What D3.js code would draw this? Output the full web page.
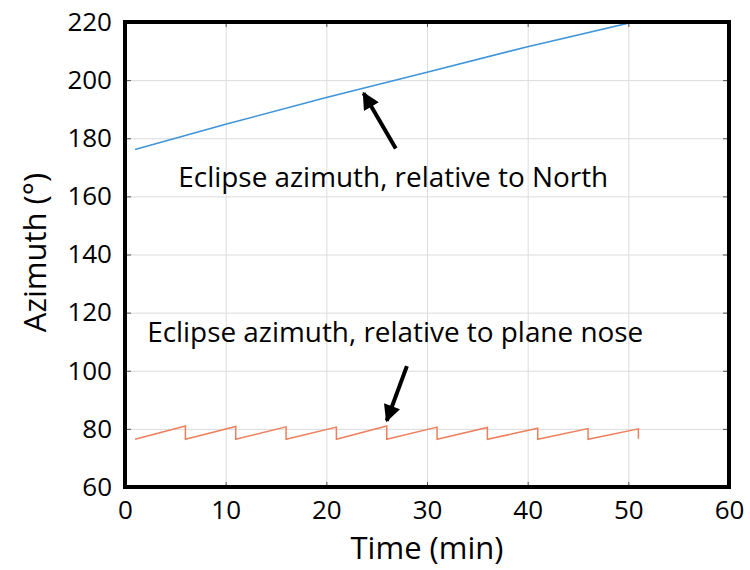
<!DOCTYPE html>
<html>
<head>
<meta charset="utf-8">
<script src="https://cdn.jsdelivr.net/npm/d3@7"></script>
<style>
    body { margin: 0; background: #fff; }
    text { font-family: "Open Sans", sans-serif; fill: #000; }
</style>
</head>
<body>
<div class="chart"></div>
<script>
// azimuth relative to north (blue)
const northTime = [1, 10, 20, 30, 40, 51];
const northAz = [176.1, 184.8, 194.0, 202.7, 211.5, 220.4];

// azimuth relative to plane nose (orange sawtooth)
const noseTime = [1, 6, 6, 11, 11, 16, 16, 21, 21, 26, 26, 31, 31, 36, 36, 41, 41, 46, 46, 51, 51];
const noseAz = [76.4, 81.0, 76.4, 80.8, 76.4, 80.7, 76.4, 80.6, 76.4, 81.0, 76.4,
    80.6, 76.4, 80.5, 76.4, 80.2, 76.4, 80.1, 76.4, 80.0, 76.6];

const xTicks = [0, 10, 20, 30, 40, 50, 60];
const yTicks = [60, 80, 100, 120, 140, 160, 180, 200, 220];

function drawChart() {
    const margin = { top: 22, right: 21, bottom: 83, left: 125 };
    const w = 750;
    const h = 570;
    const chartWidth = w - margin.left - margin.right;
    const chartHeight = h - margin.top - margin.bottom;

    const xScale = d3.scaleLinear().domain([0, 60]).range([0, chartWidth]);
    const yScale = d3.scaleLinear().domain([60, 220]).range([chartHeight, 0]);

    const svg = d3.select('.chart')
        .append('svg')
        .attr('width', w)
        .attr('height', h);

    svg.append('defs')
        .append('clipPath')
        .attr('id', 'clip')
        .append('rect')
        .attr('width', chartWidth)
        .attr('height', chartHeight);

    svg.select('defs')
        .append('marker')
        .attr('id', 'head')
        .attr('viewBox', '0 0 10 10')
        .attr('refX', 9)
        .attr('refY', 5)
        .attr('markerWidth', 4.5)
        .attr('markerHeight', 4.3)
        .attr('markerUnits', 'strokeWidth')
        .attr('orient', 'auto')
        .append('path')
        .attr('d', 'M0,0 L10,5 L0,10 Z')
        .attr('fill', '#000');

    const g = svg.append('g')
        .attr('transform', 'translate(' + margin.left + ',' + margin.top + ')');

    // grid
    g.append('g')
        .call(d3.axisBottom(xScale).tickValues(xTicks).tickSize(chartHeight).tickFormat(''))
        .call(a => a.select('.domain').remove())
        .selectAll('line').attr('stroke', '#dcdcdc');
    g.append('g')
        .call(d3.axisRight(yScale).tickValues(yTicks).tickSize(chartWidth).tickFormat(''))
        .call(a => a.select('.domain').remove())
        .selectAll('line').attr('stroke', '#dcdcdc');

    // inner ticks on all four sides
    const tickCol = '#555';
    g.append('g')
        .attr('transform', 'translate(0,' + chartHeight + ')')
        .call(d3.axisTop(xScale).tickValues(xTicks).tickSize(5).tickFormat(''))
        .call(a => a.select('.domain').remove())
        .selectAll('line').attr('stroke', tickCol);
    g.append('g')
        .call(d3.axisBottom(xScale).tickValues(xTicks).tickSize(5).tickFormat(''))
        .call(a => a.select('.domain').remove())
        .selectAll('line').attr('stroke', tickCol);
    g.append('g')
        .call(d3.axisRight(yScale).tickValues(yTicks).tickSize(6).tickFormat(''))
        .call(a => a.select('.domain').remove())
        .selectAll('line').attr('stroke', tickCol);
    g.append('g')
        .attr('transform', 'translate(' + chartWidth + ',0)')
        .call(d3.axisLeft(yScale).tickValues(yTicks).tickSize(6).tickFormat(''))
        .call(a => a.select('.domain').remove())
        .selectAll('line').attr('stroke', tickCol);

    // tick labels
    const xAxis = g.append('g')
        .attr('transform', 'translate(0,' + chartHeight + ')')
        .call(d3.axisBottom(xScale).tickValues(xTicks).tickSize(0).tickPadding(14));
    xAxis.select('.domain').remove();
    xAxis.selectAll('text').attr('font-size', 26).style('font-family', '"Open Sans", sans-serif');

    const yAxis = g.append('g')
        .call(d3.axisLeft(yScale).tickValues(yTicks).tickSize(0).tickPadding(13));
    yAxis.select('.domain').remove();
    yAxis.selectAll('text').attr('font-size', 26).style('font-family', '"Open Sans", sans-serif');

    // series
    const line = d3.line()
        .x(d => xScale(d[0]))
        .y(d => yScale(d[1]));

    g.append('path')
        .datum(northTime.map((t, i) => [t, northAz[i]]))
        .attr('clip-path', 'url(#clip)')
        .attr('fill', 'none')
        .attr('stroke', '#3f94d8')
        .attr('stroke-width', 1.6)
        .attr('d', line);

    g.append('path')
        .datum(noseTime.map((t, i) => [t, noseAz[i]]))
        .attr('clip-path', 'url(#clip)')
        .attr('fill', 'none')
        .attr('stroke', '#ee7f5c')
        .attr('stroke-width', 1.5)
        .attr('d', line);

    // frame
    g.append('rect')
        .attr('width', chartWidth)
        .attr('height', chartHeight)
        .attr('fill', 'none')
        .attr('stroke', '#000')
        .attr('stroke-width', 4);

    // annotations
    const arrows = [
        { from: [26.9, 176.5], to: [23.7, 195.5] },
        { from: [28.0, 101.6], to: [26.0, 82.8] }
    ];
    g.selectAll('.arrow')
        .data(arrows)
        .enter()
        .append('line')
        .attr('class', 'arrow')
        .attr('x1', d => xScale(d.from[0]))
        .attr('y1', d => yScale(d.from[1]))
        .attr('x2', d => xScale(d.to[0]))
        .attr('y2', d => yScale(d.to[1]))
        .attr('stroke', '#000')
        .attr('stroke-width', 4)
        .attr('marker-end', 'url(#head)');

    g.append('text')
        .attr('x', xScale(5.3))
        .attr('y', yScale(163.3))
        .attr('font-size', 27.9)
        .text('Eclipse azimuth, relative to North');

    g.append('text')
        .attr('x', xScale(2.2))
        .attr('y', yScale(109.8))
        .attr('font-size', 27.9)
        .text('Eclipse azimuth, relative to plane nose');

    // axis titles
    svg.append('text')
        .attr('x', margin.left + chartWidth / 2)
        .attr('y', 559)
        .attr('text-anchor', 'middle')
        .attr('font-size', 31)
        .text('Time (min)');

    svg.append('text')
        .attr('transform', 'rotate(-90)')
        .attr('x', -(margin.top + chartHeight / 2) + 2)
        .attr('y', 46)
        .attr('text-anchor', 'middle')
        .attr('font-size', 31)
        .text('Azimuth (°)');
}

drawChart();
</script>
</body>
</html>
